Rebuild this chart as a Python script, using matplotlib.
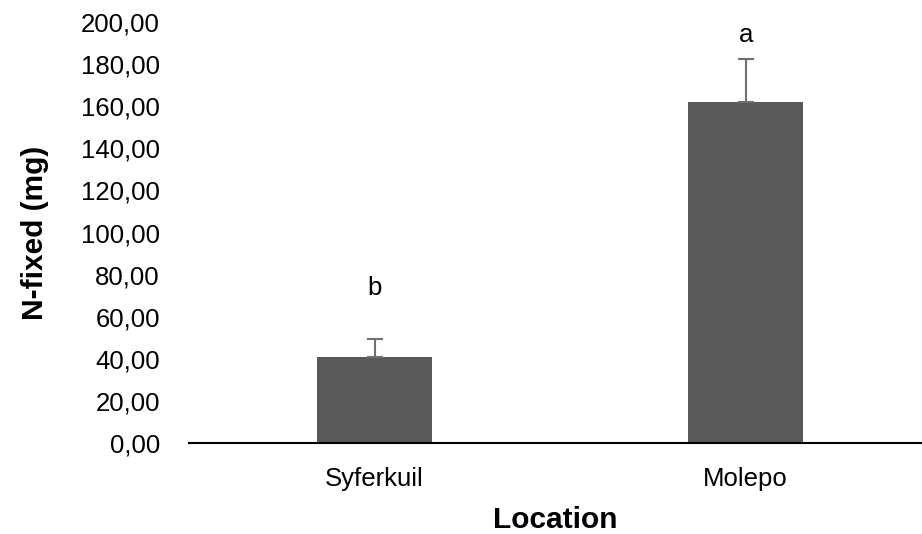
import matplotlib
matplotlib.use("Agg")
import matplotlib.pyplot as plt
from matplotlib.ticker import FuncFormatter

categories = ["Syferkuil", "Molepo"]
values = [41.0, 161.8]
errors = [8.4, 20.8]
letters = ["b", "a"]
letter_y = [73.6, 193.8]

plt.rcParams['font.family'] = ['Liberation Sans', 'DejaVu Sans']

fig = plt.figure(figsize=(9.22, 5.34), dpi=100)
ax = fig.add_axes([189/922, (534-443)/534, 1-189/922, 421/534])

x = list(range(len(categories)))
ax.bar(x, values, width=0.311, color='#595959', zorder=2)
ax.errorbar(x, values, yerr=[[0]*len(errors), errors], fmt='none',
            ecolor='#6f6f6f', elinewidth=1.5, capsize=6, capthick=1.5, zorder=3)
for xi, t, ty in zip(x, letters, letter_y):
    ax.text(xi, ty, t, ha='center', va='center', fontsize=18.5)

ax.set_xlim(-0.5, 1.475)
ax.set_ylim(0, 200)
ax.set_yticks(range(0, 201, 20))
ax.yaxis.set_major_formatter(FuncFormatter(lambda v, p: f"{v:.2f}".replace('.', ',')))
ax.set_xticks(x)
ax.set_xticklabels(categories)
ax.tick_params(axis='both', length=0, labelsize=18.5)
ax.tick_params(axis='x', pad=17)
ax.tick_params(axis='y', pad=21)
for s in ['top', 'right', 'left']:
    ax.spines[s].set_visible(False)
ax.spines['bottom'].set_linewidth(1.5)
ax.set_ylabel('N-fixed (mg)', fontsize=21.5, fontweight='bold', labelpad=23)
ax.set_xlabel('Location', fontsize=21.5, fontweight='bold', labelpad=11)

fig.savefig('out.png', dpi=100)
